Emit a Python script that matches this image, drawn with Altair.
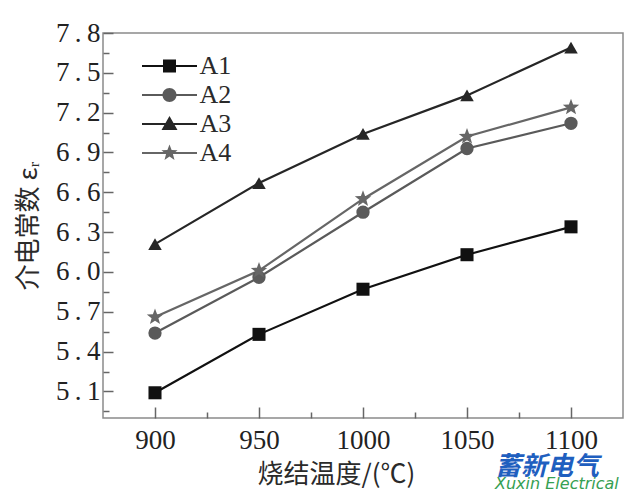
import math
import altair as alt
import pandas as pd

# ---- data ----
temps = [900, 950, 1000, 1050, 1100]
series_names = ["A1", "A2", "A3", "A4"]
A1 = [5.09, 5.53, 5.87, 6.13, 6.34]
A2 = [5.54, 5.96, 6.45, 6.93, 7.12]
A3 = [6.21, 6.67, 7.04, 7.33, 7.69]
A4 = [5.66, 6.01, 6.55, 7.02, 7.24]
colors = ["#111111", "#5a5a5a", "#262626", "#666666"]
marker_sizes = [170, 190, 230, 190]

x_major = [900, 950, 1000, 1050, 1100]
x_minor = [925, 975, 1025, 1075]
y_major = [5.1, 5.4, 5.7, 6.0, 6.3, 6.6, 6.9, 7.2, 7.5, 7.8]
y_minor = [4.95, 5.25, 5.55, 5.85, 6.15, 6.45, 6.75, 7.05, 7.35, 7.65]

x_title = "烧结温度/(℃)"
y_title = "介电常数 εᵣ"
mark_title = "蓄新电气"
mark_subtitle = "Xuxin Electrical"


def star_path(ro, ri):
    pts = []
    for i in range(10):
        ang = math.radians(-90 + 36 * i)
        rad = ro if i % 2 == 0 else ri
        pts.append(f"{rad * math.cos(ang):.4f},{rad * math.sin(ang):.4f}")
    return "M" + "L".join(pts) + "Z"


rows = []
for name, vals in zip(series_names, [A1, A2, A3, A4]):
    for t, v in zip(temps, vals):
        rows.append({"temp": t, "value": v, "series": name})
df = pd.DataFrame(rows)

# ---- legend symbols: a line segment with the marker on it ----
SYM = 676          # symbol size -> 13 px per path unit
K = 13.0
half_line = 27.5 / K
t = 1.1 / K
line_rect = f"M{-half_line},{-t}H{half_line}V{t}H{-half_line}Z"
s = 6.5 / K
sq = f"M{-s},{-s}H{s}V{s}H{-s}Z"
r = 7.0 / K
circ = f"M{r},0A{r},{r} 0 1,1 {-r},0A{r},{r} 0 1,1 {r},0Z"
tw, tt, tb = 8.0 / K, -8.0 / K, 6.0 / K
tri = f"M0,{tt}L{tw},{tb}L{-tw},{tb}Z"
legend_paths = [line_rect + sq, line_rect + circ, line_rect + tri,
                line_rect + star_path(8.5 / K, 3.6 / K)]

point_shapes = ["square", "circle", "triangle-up", star_path(1.25, 0.52)]

xscale = alt.Scale(domain=[875, 1125], nice=False, zero=False)
yscale = alt.Scale(domain=[4.9, 7.8], nice=False, zero=False)
color_scale = alt.Scale(domain=series_names, range=colors)

label_font = "Liberation Serif"
cjk_font = "Noto Sans CJK SC"

lines = alt.Chart(df).mark_line(strokeWidth=2.2).encode(
    x=alt.X("temp:Q", scale=xscale, axis=alt.Axis(
        orient="bottom", values=x_major, tickSize=11, offset=-11, labelPadding=9, format="d",
        title=x_title, titleFont=cjk_font, titleFontSize=26, titleFontWeight="normal",
        titleColor="#2a2a2a", titlePadding=8, titleX=233)),
    y=alt.Y("value:Q", scale=yscale, axis=alt.Axis(
        orient="left", values=y_major, tickSize=10, offset=-10, labelPadding=3,
        labelExpr="replace(format(datum.value, '.1f'), '.', '\u2009.\u2009')",
        title=y_title, titleFont=cjk_font, titleFontSize=26, titleFontWeight="normal",
        titleColor="#2a2a2a", titlePadding=14)),
    color=alt.Color("series:N", scale=color_scale, legend=None),
)

points = alt.Chart(df).mark_point(filled=True, opacity=1).encode(
    x=alt.X("temp:Q", scale=xscale, axis=alt.Axis(
        orient="bottom", values=x_minor, tickSize=6, offset=-6, labels=False, title=None)),
    y=alt.Y("value:Q", scale=yscale, axis=alt.Axis(
        orient="left", values=y_minor, tickSize=6, offset=-6, labels=False, title=None)),
    color=alt.Color("series:N", scale=color_scale, legend=None),
    shape=alt.Shape("series:N", scale=alt.Scale(domain=series_names, range=point_shapes), legend=None),
    size=alt.Size("series:N", scale=alt.Scale(domain=series_names, range=marker_sizes), legend=None),
)

leg = alt.Legend(
    title=None, orient="none", legendX=39, legendY=20, padding=0, offset=0,
    labelFont=label_font, labelFontSize=26, labelColor="#2a2a2a",
    symbolSize=SYM, symbolStrokeWidth=0, symbolOpacity=1,
    symbolOffset=14.5, labelOffset=17, rowPadding=3,
)

legend_layer = alt.Chart(df).mark_point(filled=True, opacity=0, size=SYM).encode(
    x=alt.X("temp:Q", scale=xscale, axis=None),
    y=alt.Y("value:Q", scale=yscale, axis=None),
    color=alt.Color("series:N", scale=color_scale, legend=leg),
    shape=alt.Shape("series:N", scale=alt.Scale(domain=series_names, range=legend_paths), legend=leg),
)

chart = alt.layer(lines, points, legend_layer).resolve_scale(
    shape="independent", color="independent", size="independent"
).resolve_axis(
    x="independent", y="independent"
).properties(
    width=520, height=385,
    autosize=alt.AutoSizeParams(type="none"),
    padding={"left": 95, "top": 25, "right": 9, "bottom": 74},
    background="white",
    title=alt.Title(
        text=mark_title, subtitle=mark_subtitle, orient="bottom", anchor="start",
        frame="group", dx=392,
        font=cjk_font, fontSize=26, fontWeight="bold", fontStyle="italic", color="#1f5fbf",
        subtitleFont="DejaVu Sans", subtitleFontSize=16, subtitleFontStyle="italic",
        subtitleColor="#36a052", offset=-33, subtitlePadding=-4,
    ),
).configure_view(
    stroke="#8a8a8a", strokeWidth=1.5
).configure_axis(
    labelFont=label_font, labelFontSize=27, labelColor="#222222",
    tickColor="#666666", tickWidth=1.5, domain=False, grid=False,
)

chart.save("out.html", embed_options={"renderer": "svg", "actions": False})
